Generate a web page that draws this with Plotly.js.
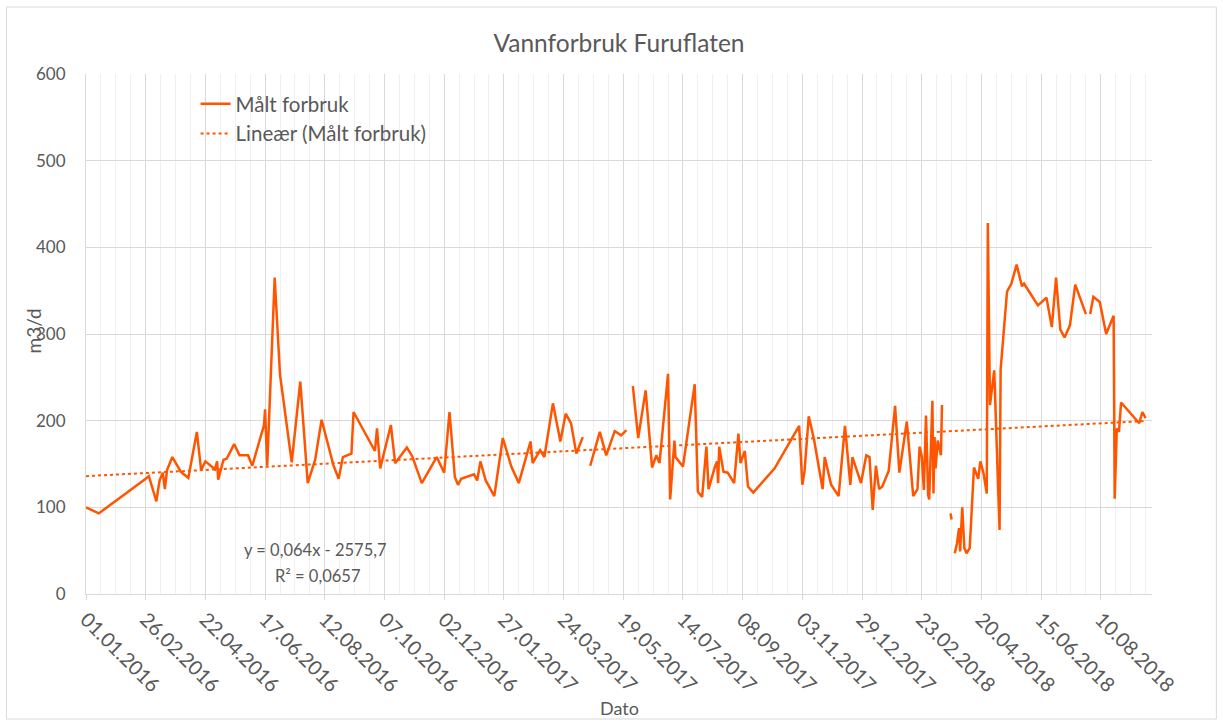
<!DOCTYPE html>
<html>
<head>
<meta charset="utf-8">
<script src="https://cdn.plot.ly/plotly-3.0.1.min.js"></script>
<style>
  html, body { margin: 0; padding: 0; background: #ffffff; }
  #chart { width: 1223px; height: 722px; }
</style>
</head>
<body>
<div id="chart"></div>
<script>
// ---- Data ----
const dates = [
  '2016-01-01','2016-01-13','2016-02-26','2016-02-29','2016-03-07','2016-03-10','2016-03-13','2016-03-15',
  '2016-03-17','2016-03-22','2016-03-30','2016-04-06','2016-04-14','2016-04-18','2016-04-22','2016-05-01',
  '2016-05-03','2016-05-04','2016-05-09','2016-05-12','2016-05-19','2016-05-24','2016-06-01','2016-06-05',
  '2016-06-16','2016-06-17','2016-06-19','2016-06-26','2016-07-01','2016-07-12','2016-07-20','2016-07-27',
  '2016-08-03','2016-08-09','2016-08-20','2016-08-25','2016-08-29','2016-09-06','2016-09-08','2016-09-28',
  '2016-09-30','2016-10-03','2016-10-13','2016-10-17','2016-10-28','2016-11-02','2016-11-11','2016-11-25',
  '2016-12-02','2016-12-07','2016-12-12','2016-12-15','2016-12-18','2016-12-30','2017-01-02','2017-01-05',
  '2017-01-10','2017-01-18','2017-01-26','2017-02-03','2017-02-10','2017-02-21','2017-02-23','2017-03-02',
  '2017-03-06','2017-03-14','2017-03-21','2017-03-26','2017-03-31','2017-04-05','2017-04-11','2017-04-14',
  '2017-04-18','2017-04-27','2017-05-03','2017-05-11','2017-05-17','2017-05-22','2017-05-25','2017-05-28',
  '2017-06-02','2017-06-09','2017-06-15','2017-06-19','2017-06-22','2017-06-30','2017-07-02','2017-07-06',
  '2017-07-07','2017-07-14','2017-07-25','2017-07-28','2017-08-01','2017-08-05','2017-08-07','2017-08-13',
  '2017-08-15','2017-08-16','2017-08-17','2017-08-21','2017-08-25','2017-08-31','2017-09-04','2017-09-06',
  '2017-09-10','2017-09-13','2017-09-18','2017-10-08','2017-10-31','2017-11-03','2017-11-05','2017-11-09',
  '2017-11-14','2017-11-22','2017-11-24','2017-11-30','2017-12-07','2017-12-13','2017-12-18','2017-12-20',
  '2017-12-28','2018-01-02','2018-01-05','2018-01-08','2018-01-11','2018-01-14','2018-01-17','2018-01-23',
  '2018-01-29','2018-02-02','2018-02-09','2018-02-15','2018-02-19','2018-02-21','2018-02-23','2018-02-25',
  '2018-02-27','2018-03-01','2018-03-02','2018-03-05','2018-03-06','2018-03-07','2018-03-08','2018-03-10',
  '2018-03-13','2018-03-14','2018-03-18','2018-03-22','2018-03-23','2018-03-24','2018-03-26','2018-03-28',
  '2018-03-30','2018-03-31','2018-04-02','2018-04-04','2018-04-06','2018-04-09','2018-04-13','2018-04-17',
  '2018-04-19','2018-04-22','2018-04-25','2018-04-26','2018-04-28','2018-05-02','2018-05-07','2018-05-08',
  '2018-05-14','2018-05-18','2018-05-23','2018-05-28','2018-05-30','2018-06-12','2018-06-20','2018-06-25',
  '2018-06-29','2018-07-03','2018-07-07','2018-07-12','2018-07-17','2018-07-27','2018-07-29','2018-07-31',
  '2018-08-03','2018-08-09','2018-08-15','2018-08-22','2018-08-23','2018-08-25','2018-08-27','2018-08-29',
  '2018-09-15','2018-09-18','2018-09-21'
];
const forbruk = [
  100, 93, 133, 136, 107, 131, 140, 121,
  143, 158, 141, 134, 187, 143, 153, 144,
  153, 132, 155, 156, 173, 160, 160, 148,
  195, 213, 148, 365, 253, 152, 245, 128,
  155, 201, 149, 133, 158, 162, 210, 165,
  191, 145, 195, 151, 169, 159, 128, 158,
  140, 210, 135, 126, 133, 138, 131, 153,
  131, 113, 180, 147, 128, 176, 151, 166,
  158, 220, 176, 208, 197, 162, 181, null,
  148, 187, 160, 188, 183, 189, null, 240,
  180, 235, 146, 160, 151, 254, 109, 177,
  158, 147, 242, 118, 112, 170, 121, 147,
  153, 128, 170, 141, 140, 128, 185, 151,
  165, 124, 117, 145, 194, 126, 141, 205,
  178, 121, 158, 126, 113, 194, 126, 158,
  128, 160, 158, 97, 148, 121, 124, 142,
  217, 140, 199, 113, 121, 170, 159, 120,
  206, 114, 109, 223, 116, 181, 145, 177,
  160, 218, null, 93, 86, null, 47, 58,
  76, 49, 100, 53, 47, 53, 146, 133,
  153, 139, 116, 428, 218, 258, 74, 259,
  349, 358, 380, 355, 358, 333, 342, 308,
  365, 305, 296, 310, 357, 323, null, 323,
  343, 337, 300, 321, 110, 191, 187, 221,
  197, 210, 203
];
// Linear trendline as printed on the chart (x = Excel serial date)
const trendSlope = 0.064;
const trendIntercept = -2575.7;
const trendLabel = 'y = 0,064x - 2575,7';
const r2Label = 'R² = 0,0657';
const yTicks = [0, 100, 200, 300, 400, 500, 600];

// ---- Build trendline via Excel serial dates ----
function excelSerial(iso) {
  const p = iso.split('-').map(Number);
  return (Date.UTC(p[0], p[1] - 1, p[2]) - Date.UTC(1899, 11, 30)) / 86400000;
}
const trendX = [dates[0], dates[dates.length - 1]];
const trendY = trendX.map(d => trendSlope * excelSerial(d) + trendIntercept);

const ORANGE = '#FF5500';
const GRAY = '#595959';
const FONT = 'Lato, "Noto Sans", sans-serif';
const DAY = 86400000;
const PW = 1065.2, PH = 520, PL = 86.5, PB = 594;
const px2x = px => (px - PL) / PW;
const py2y = py => (PB - py) / PH;

const traces = [
  {
    x: dates, y: forbruk, type: 'scatter', mode: 'lines', name: 'Målt forbruk',
    line: { color: ORANGE, width: 2.5 }, connectgaps: false
  },
  {
    x: trendX, y: trendY, type: 'scatter', mode: 'lines', name: 'Lineær (Målt forbruk)',
    line: { color: ORANGE, width: 2, dash: 'dot' }
  }
];

const layout = {
  width: 1223, height: 722,
  margin: { l: 86, r: 71, t: 74, b: 128 },
  paper_bgcolor: '#ffffff', plot_bgcolor: '#ffffff',
  font: { family: FONT, color: GRAY, size: 16 },
  title: {
    text: 'Vannforbruk Furuflaten',
    font: { family: FONT, size: 24.5, color: GRAY },
    x: 0.5, xref: 'paper', y: 1 - 43 / 722, yref: 'container', yanchor: 'middle'
  },
  xaxis: {
    type: 'date',
    range: ['2016-01-01', '2018-09-27'],
    tick0: '2016-01-01', dtick: 56 * DAY,
    tickformat: '%d.%m.%Y', tickangle: 45,
    tickfont: { size: 20, color: GRAY },
    ticks: 'outside', ticklen: 5, tickcolor: '#d9d9d9',
    showgrid: true, gridcolor: '#d9d9d9', gridwidth: 1,
    minor: { tick0: '2016-01-01', dtick: 14 * DAY, showgrid: true, gridcolor: '#f0f0f0', gridwidth: 1, ticks: '' },
    showline: true, linecolor: '#d9d9d9', linewidth: 1,
    zeroline: false,
    title: { text: '' },
    automargin: false
  },
  yaxis: {
    range: [0, 600],
    tickvals: yTicks,
    tickfont: { size: 17, color: GRAY },
    showgrid: true, gridcolor: '#d9d9d9', gridwidth: 1,
    showline: true, linecolor: '#d9d9d9', linewidth: 1,
    zeroline: false, ticks: '',
    ticklabelstandoff: 16,
    title: { text: '' },
    automargin: false
  },
  legend: {
    x: px2x(196), y: py2y(84), xanchor: 'left', yanchor: 'top',
    bgcolor: 'rgba(0,0,0,0)', font: { size: 20.5, color: GRAY },
    tracegroupgap: 0
  },
  showlegend: true,
  annotations: [
    { text: trendLabel, xref: 'paper', yref: 'paper', x: px2x(316), y: py2y(550),
      showarrow: false, font: { size: 16.5, color: GRAY }, xanchor: 'center', yanchor: 'middle' },
    { text: r2Label, xref: 'paper', yref: 'paper', x: px2x(318), y: py2y(576),
      showarrow: false, font: { size: 16.5, color: GRAY }, xanchor: 'center', yanchor: 'middle' },
    // axis titles
    { text: 'Dato', xref: 'paper', yref: 'paper', x: 0.5, y: py2y(708),
      showarrow: false, font: { size: 18, color: GRAY }, xanchor: 'center', yanchor: 'middle' },
    { text: 'm3/d', xref: 'paper', yref: 'paper', x: px2x(34), y: py2y(331), textangle: -90,
      showarrow: false, font: { size: 19, color: GRAY }, xanchor: 'center', yanchor: 'middle' }
  ],
  shapes: [
    { type: 'rect', xref: 'paper', yref: 'paper',
      x0: px2x(7), x1: px2x(1216), y0: py2y(719), y1: py2y(7),
      line: { color: '#d9d9d9', width: 1 }, fillcolor: 'rgba(0,0,0,0)', layer: 'below' }
  ]
};

Plotly.newPlot('chart', traces, layout, { displayModeBar: false, staticPlot: true });
</script>
</body>
</html>
